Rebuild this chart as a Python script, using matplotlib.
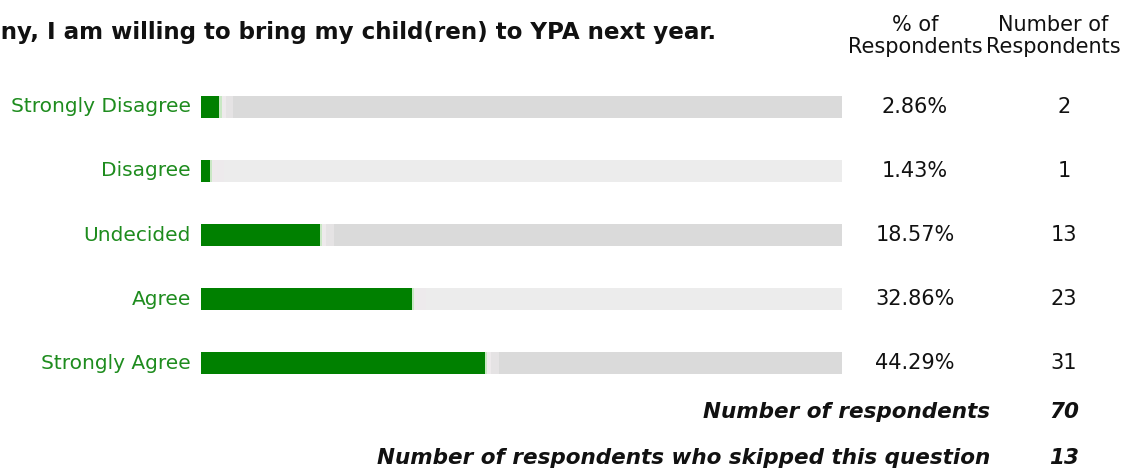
import matplotlib
matplotlib.use("Agg")
import matplotlib.pyplot as plt
from matplotlib.transforms import blended_transform_factory

# survey answers, top to bottom
answers = ["Strongly Disagree", "Disagree", "Undecided", "Agree", "Strongly Agree"]
percents = [2.86, 1.43, 18.57, 32.86, 44.29]
counts = [2, 1, 13, 23, 31]
total_respondents = 70
skipped = 13
title = "If YPA is offered again by the company, I am willing to bring my child(ren) to YPA next year."

W, H = 1148, 473
plt.rcParams["font.family"] = ["DejaVu Sans"]
fig = plt.figure(figsize=(W / 100, H / 100), dpi=100)

def px(x, y):
    return x / W, 1 - y / H

# bar area in pixels: x 201..842, rows from y 75 to 395
ax = fig.add_axes([201 / W, 1 - 395 / H, 641 / W, 320 / H])
ax.set_xlim(0, 100)
ax.set_ylim(len(answers) - 0.5, -0.5)
ax.axis("off")

rows = list(range(len(answers)))
tracks = ["#dadada" if i % 2 == 0 else "#ececec" for i in rows]
ax.barh(rows, [100] * len(rows), height=0.344, color=tracks, linewidth=0)
# soft fade just past the end of each green bar
ax.barh(rows, [1.0] * len(rows), left=percents, height=0.344,
        color="#eeeaec", linewidth=0)
ax.barh(rows, [2.2] * len(rows), left=percents, height=0.344,
        color="#eeeaec", alpha=0.6, linewidth=0)
ax.barh(rows, [0.35] * len(rows), left=percents, height=0.344,
        color="#c9e8c4", linewidth=0)
ax.barh(rows, percents, height=0.344, color="#008000", linewidth=0)

tr = blended_transform_factory(fig.transFigure, ax.transData)
for i, (a, p, c) in enumerate(zip(answers, percents, counts)):
    ax.text(191 / W, i, a, transform=tr, ha="right", va="center",
            color="#1e8c1e", fontsize=14.5)
    ax.text(915 / W, i, f"{p:.2f}%", transform=tr, ha="center", va="center",
            color="#111111", fontsize=15)
    ax.text(1064 / W, i, str(c), transform=tr, ha="center", va="center",
            color="#111111", fontsize=15)

fig.text(*px(716, 33), title, ha="right", va="center", fontsize=16.6,
         fontweight="bold", color="#111111")
fig.text(*px(915, 36), "% of\nRespondents", ha="center", va="center",
         fontsize=15, color="#111111", linespacing=1.1)
fig.text(*px(1053, 36), "Number of\nRespondents", ha="center", va="center",
         fontsize=15, color="#111111", linespacing=1.1)

foot = dict(fontsize=15.5, fontweight="bold", style="italic", color="#111111",
            va="center", ha="right")
fig.text(*px(990, 412), "Number of respondents", **foot)
fig.text(*px(1079, 412), str(total_respondents), **foot)
fig.text(*px(990, 458), "Number of respondents who skipped this question", **foot)
fig.text(*px(1079, 458), str(skipped), **foot)

fig.savefig("out.png", dpi=100, facecolor="white")
